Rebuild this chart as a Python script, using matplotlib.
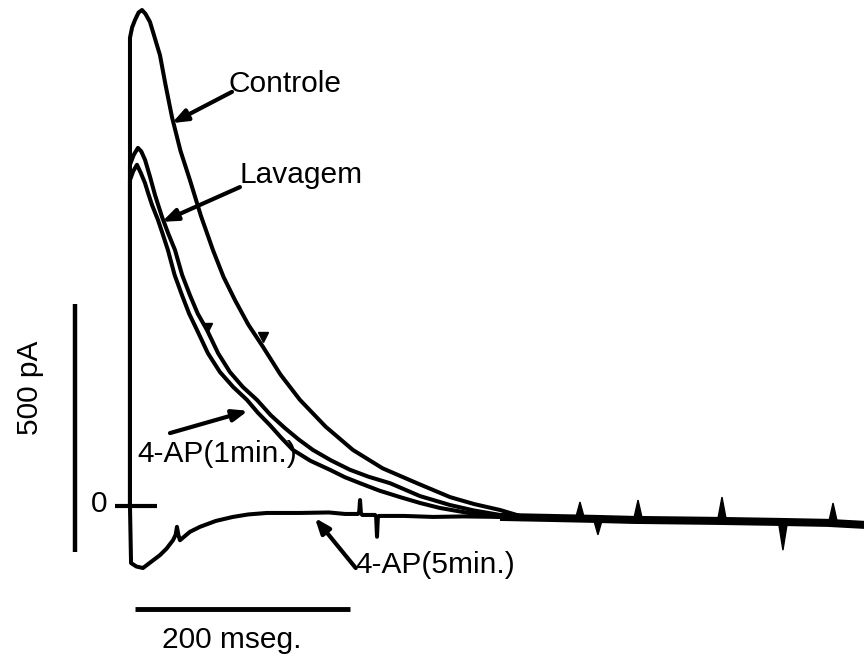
import numpy as np
import matplotlib
matplotlib.use("Agg")
import matplotlib.pyplot as plt

plt.rcParams['font.family'] = ['Liberation Sans', 'DejaVu Sans']

# traces: time in ms, current in pA
controle_t = [0, 0, 2.0, 4.7, 8.0, 11.2, 14.5, 18.6, 22.5, 27.9, 33.0, 39.1, 47.0,
              55.8, 66.0, 77.2, 87.0, 97.7, 110.0, 123.7, 140.0, 158.1, 182.0,
              207.4, 235.0, 267.0, 297.7, 320.0, 344.2, 362.8]
controle_i = [0, 944, 965, 980, 995, 1000, 992, 976, 948, 909, 850, 784, 716,
              657, 585, 516, 462, 415, 366, 321, 265, 214, 160,
              113, 76, 46, 18, 4, -8, -20]

lavagem_t = [0, 0, 3.5, 7.4, 10.5, 14.0, 18.5, 23.3, 29.8, 35.5, 41.9, 48.5,
             55.8, 63.0, 71.6, 82.0, 93.0, 105.0, 118.1, 131.0, 144.2, 157.0,
             170.2, 187.0, 204.7, 222.0, 241.9, 269.8, 297.7, 320.0, 344.2, 362.8]
lavagem_i = [0, 688, 708, 722, 715, 698, 665, 627, 583, 550, 516, 466,
             425, 388, 355, 308, 270, 240, 214, 183, 157, 134,
             113, 92, 73, 59, 46, 20, 2, -9, -18, -24]

ap1_t = [0, 0, 3.0, 6.5, 10.0, 14.0, 17.0, 20.5, 26.0, 30.5, 35.3, 41.5,
         48.4, 55.0, 62.3, 72.5, 83.7, 96.0, 108.8, 119.0, 130.2, 141.0,
         151.6, 168.0, 186.0, 200.0, 214.0, 232.0, 251.2, 270.0, 288.4,
         315.0, 344.2, 362.8]
ap1_i = [0, 657, 675, 688, 672, 651, 630, 607, 577, 548, 516, 466,
         425, 388, 355, 308, 270, 240, 214, 188, 163, 137,
         113, 91, 73, 58, 46, 31, 18, 6, -4, -14, -22, -26]

ap5_t = [0, 1, 6.0, 12.1, 20.0, 27.9, 34.0, 40, 42.5, 43.7, 45.0, 46.5, 55.8,
         65.1, 80, 95.8, 110.0, 127.4, 158.1, 185.0, 200, 212, 213.2, 214,
         214.8, 216, 228, 229.0, 229.8, 230.6, 231.6, 255.0, 281.9, 310.0,
         344.2, 362.8]
ap5_i = [0, -115, -122, -125, -112, -99, -86, -69, -58, -42, -58, -69, -52,
         -42, -30, -22, -17, -14, -14, -13, -16, -16, -14, 12,
         -14, -18, -18, -22, -62, -22, -20, -20, -22, -21,
         -22, -24]

# shared baseline where all four traces overlap, plus its spikes
tail_t = [344.2, 390, 433, 468, 546, 602, 649, 683]
tail_i = [-22, -24, -26, -28, -30, -32, -34, -38]
spike_t = [418.6, 435.3, 472.6, 550.7, 607.4, 654]
spike_i = [8, -58, 12, 18, -89, 6]

fig = plt.figure(figsize=(8.64, 6.56), dpi=100)
ax = fig.add_axes([0, 0, 1, 1])
ax.set_xlim(-120.9, 682.8)
ax.set_ylim(-302.4, 1020.2)
ax.axis('off')

lw = 2.9
for t, i in [(controle_t, controle_i), (lavagem_t, lavagem_i),
             (ap1_t, ap1_i), (ap5_t, ap5_i)]:
    ax.plot(t, i, color='black', lw=lw, solid_joinstyle='round')
ax.plot(tail_t, tail_i, color='black', lw=5.8, solid_capstyle='butt')

# spikes drawn as tapering triangles on the baseline
half = 4.2
for st, si in zip(spike_t, spike_i):
    base = np.interp(st, tail_t, tail_i)
    ax.fill([st - half, st, st + half], [base, si, base], color='black', lw=1.0,
            edgecolor='black')

# little arrowheads sitting on the traces
ax.plot([123.7], [341], marker='v', color='black', ms=7)
ax.plot([72.6], [361], marker='v', color='black', ms=6)

# scale bars and zero mark
ax.plot([-51.2, -51.2], [-93, 407], color='black', lw=3.2, solid_capstyle='butt')
ax.plot([5, 205], [-208, -208], color='black', lw=3.5, solid_capstyle='butt')
ax.plot([-14, 25], [0, 0], color='black', lw=3, solid_capstyle='butt')

fs = 21.5
ax.text(-93, 238, '500 pA', rotation=90, ha='center', va='center', fontsize=fs)
ax.text(95, -286, '200 mseg.', ha='center', va='baseline', fontsize=fs)
ax.text(-28.8, 4, '0', ha='center', va='center', fontsize=fs)

arrow = dict(arrowstyle='-|>,head_length=0.9,head_width=0.35', color='black',
             lw=3, shrinkA=0, shrinkB=0)
ax.text(92.1, 835, 'Controle', ha='left', va='baseline', fontsize=fs)
ax.annotate('', xy=(39.1, 772), xytext=(94.9, 835), arrowprops=arrow)

ax.text(102.3, 651, 'Lavagem', ha='left', va='baseline', fontsize=fs)
ax.annotate('', xy=(29.8, 573), xytext=(102.3, 643), arrowprops=arrow)

ax.text(6.5, 89, '4-AP(1min.)', ha='left', va='baseline', fontsize=fs)
ax.annotate('', xy=(109.8, 192), xytext=(37.2, 147), arrowprops=arrow)

ax.text(210, -135, '4-AP(5min.)', ha='left', va='baseline', fontsize=fs)
ax.annotate('', xy=(172, -24), xytext=(210, -125), arrowprops=arrow)

fig.savefig('out.png', dpi=100)
